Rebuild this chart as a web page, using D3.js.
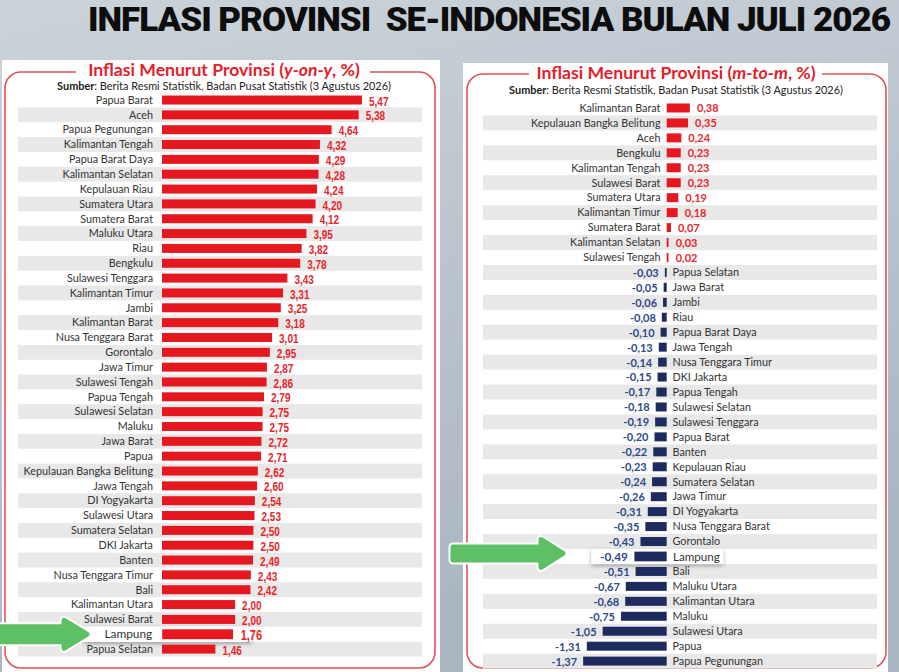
<!DOCTYPE html>
<html>
<head>
<meta charset="utf-8">
<script src="https://cdn.jsdelivr.net/npm/d3@7"></script>
<style>
  html, body { margin: 0; padding: 0; background: #b9c4ce; }
  svg { display: block; }
</style>
</head>
<body>
<div id="chart"></div>
<script>
// Data
const provYoy = ["Papua Barat", "Aceh", "Papua Pegunungan", "Kalimantan Tengah", "Papua Barat Daya",
  "Kalimantan Selatan", "Kepulauan Riau", "Sumatera Utara", "Sumatera Barat", "Maluku Utara", "Riau",
  "Bengkulu", "Sulawesi Tenggara", "Kalimantan Timur", "Jambi", "Kalimantan Barat", "Nusa Tenggara Barat",
  "Gorontalo", "Jawa Timur", "Sulawesi Tengah", "Papua Tengah", "Sulawesi Selatan", "Maluku", "Jawa Barat",
  "Papua", "Kepulauan Bangka Belitung", "Jawa Tengah", "DI Yogyakarta", "Sulawesi Utara", "Sumatera Selatan",
  "DKI Jakarta", "Banten", "Nusa Tenggara Timur", "Bali", "Kalimantan Utara", "Sulawesi Barat", "Lampung",
  "Papua Selatan"];
const valYoy = [5.47, 5.38, 4.64, 4.32, 4.29, 4.28, 4.24, 4.20, 4.12, 3.95, 3.82, 3.78, 3.43, 3.31, 3.25,
  3.18, 3.01, 2.95, 2.87, 2.86, 2.79, 2.75, 2.75, 2.72, 2.71, 2.62, 2.60, 2.54, 2.53, 2.50, 2.50, 2.49,
  2.43, 2.42, 2.00, 2.00, 1.76, 1.46];

const provMtm = ["Kalimantan Barat", "Kepulauan Bangka Belitung", "Aceh", "Bengkulu", "Kalimantan Tengah",
  "Sulawesi Barat", "Sumatera Utara", "Kalimantan Timur", "Sumatera Barat", "Kalimantan Selatan",
  "Sulawesi Tengah", "Papua Selatan", "Jawa Barat", "Jambi", "Riau", "Papua Barat Daya", "Jawa Tengah",
  "Nusa Tenggara Timur", "DKI Jakarta", "Papua Tengah", "Sulawesi Selatan", "Sulawesi Tenggara",
  "Papua Barat", "Banten", "Kepulauan Riau", "Sumatera Selatan", "Jawa Timur", "DI Yogyakarta",
  "Nusa Tenggara Barat", "Gorontalo", "Lampung", "Bali", "Maluku Utara", "Kalimantan Utara", "Maluku",
  "Sulawesi Utara", "Papua", "Papua Pegunungan"];
const valMtm = [0.38, 0.35, 0.24, 0.23, 0.23, 0.23, 0.19, 0.18, 0.07, 0.03, 0.02, -0.03, -0.05, -0.06,
  -0.08, -0.10, -0.13, -0.14, -0.15, -0.17, -0.18, -0.19, -0.20, -0.22, -0.23, -0.24, -0.26, -0.31, -0.35,
  -0.43, -0.49, -0.51, -0.67, -0.68, -0.75, -1.05, -1.31, -1.37];

const highlight = "Lampung";

const W = 899, H = 672;
const red = "#e5171f", redText = "#e8262c", navy = "#1d2b5e", blueText = "#2d4a8a";
const labelFont = "Lato, 'Open Sans', sans-serif";
const numFont = "'Liberation Sans', Arial, sans-serif";

const idLocale = d3.formatLocale({decimal: ",", thousands: ".", grouping: [3], currency: ["", ""], minus: "-"});
const fmt = idLocale.format(".2f");

const svg = d3.select("#chart").append("svg")
  .attr("width", W)
  .attr("height", H);

const defs = svg.append("defs");
const bg = defs.append("linearGradient").attr("id", "bg")
  .attr("x1", 0).attr("y1", 0).attr("x2", 0.3).attr("y2", 1);
bg.append("stop").attr("offset", "0%").attr("stop-color", "#cbd3da");
bg.append("stop").attr("offset", "100%").attr("stop-color", "#a9b5c1");

const shadow = defs.append("filter").attr("id", "shadow")
  .attr("x", "-20%").attr("y", "-60%").attr("width", "140%").attr("height", "220%");
shadow.append("feDropShadow").attr("dx", 0).attr("dy", 1.5).attr("stdDeviation", 2)
  .attr("flood-color", "#000").attr("flood-opacity", 0.35);

svg.append("rect").attr("width", W).attr("height", H).attr("fill", "url(#bg)");

// Main title
svg.append("text")
  .attr("x", 88).attr("y", 31)
  .attr("textLength", 802).attr("lengthAdjust", "spacingAndGlyphs")
  .style("white-space", "pre")
  .attr("font-family", "Roboto, 'DejaVu Sans', sans-serif")
  .attr("font-weight", 900)
  .attr("font-size", 34)
  .attr("letter-spacing", -1)
  .attr("fill", "#0d0d0d")
  .text("INFLASI PROVINSI  SE-INDONESIA BULAN JULI 2026");

// Card frame: white card, red rounded border with a gap for the heading
function card(o) {
  svg.append("rect")
    .attr("x", o.cx).attr("y", o.cy).attr("width", o.cw).attr("height", H - o.cy + 5)
    .attr("fill", "#fff");

  const r = 16, p = d3.path();
  p.moveTo(o.gapL, o.t);
  p.lineTo(o.l + r, o.t);
  p.arcTo(o.l, o.t, o.l, o.t + r, r);
  p.lineTo(o.l, o.b - r);
  p.arcTo(o.l, o.b, o.l + r, o.b, r);
  p.lineTo(o.r - r, o.b);
  p.arcTo(o.r, o.b, o.r, o.b - r, r);
  p.lineTo(o.r, o.t + r);
  p.arcTo(o.r, o.t, o.r - r, o.t, r);
  p.lineTo(o.gapR, o.t);
  svg.append("path").attr("d", p.toString())
    .attr("fill", "none").attr("stroke", "#e0525b").attr("stroke-width", 1.6);

  const t = svg.append("text")
    .attr("x", o.tx).attr("y", o.ty)
    .attr("text-anchor", "middle")
    .attr("font-family", labelFont)
    .attr("font-weight", 700)
    .attr("font-size", 17.6)
    .attr("fill", "#e4202a");
  t.append("tspan").text("Inflasi Menurut Provinsi (");
  t.append("tspan").attr("font-style", "italic").text(o.kind);
  t.append("tspan").text(", %)");

  const s = svg.append("text")
    .attr("x", o.tx).attr("y", o.sy)
    .attr("text-anchor", "middle")
    .attr("font-family", labelFont)
    .attr("font-size", 10.9)
    .attr("fill", "#222");
  s.append("tspan").attr("font-weight", 700).text("Sumber");
  s.append("tspan").text(": Berita Resmi Statistik, Badan Pusat Statistik (3 Agustus 2026)");
}

card({cx: 2, cy: 60, cw: 438, l: 5, r: 435, t: 72, b: 668, gapL: 76, gapR: 370,
  tx: 224, ty: 75.5, sy: 90, kind: "y-on-y"});
card({cx: 463, cy: 63, cw: 425, l: 467, r: 886, t: 74, b: 668, gapL: 529, gapR: 822,
  tx: 676, ty: 79, sy: 94, kind: "m-to-m"});

// ---------- Left chart: y-on-y ----------
const yL = d3.scaleBand().domain(provYoy).range([92.6, 92.6 + 38 * 14.84]);
const xL = d3.scaleLinear().domain([0, 6]).range([162, 162 + 6 * 36.56]);

const gL = svg.append("g");
gL.selectAll("rect.stripe")
  .data(provYoy.filter((d, i) => i % 2 === 1))
  .enter().append("rect")
  .attr("class", "stripe")
  .attr("x", 18).attr("width", 404)
  .attr("y", d => yL(d)).attr("height", yL.bandwidth())
  .attr("fill", "#e8e8e8");

const rowsL = gL.selectAll("g.row")
  .data(provYoy.map((d, i) => ({name: d, value: valYoy[i]})))
  .enter().append("g")
  .attr("class", "row")
  .attr("transform", d => {
    const cy = yL(d.name) + yL.bandwidth() / 2;
    return d.name === highlight
      ? `translate(0,${cy}) translate(160,0) scale(1.1) translate(-160,0)`
      : `translate(0,${cy})`;
  });

rowsL.filter(d => d.name === highlight).append("rect")
  .attr("x", 91).attr("y", -7).attr("width", 152).attr("height", 14)
  .attr("fill", "#fff").attr("filter", "url(#shadow)");

rowsL.append("text")
  .attr("x", 153).attr("dy", "0.35em")
  .attr("text-anchor", "end")
  .attr("font-family", labelFont).attr("font-size", 10.8)
  .attr("fill", "#333")
  .text(d => d.name);

rowsL.append("rect")
  .attr("x", xL(0)).attr("y", -4.5)
  .attr("width", d => xL(d.value) - xL(0)).attr("height", 9)
  .attr("fill", red);

// condensed figures: squeeze to the narrow width seen in the picture
rowsL.append("text")
  .attr("x", d => xL(d.value) + 7).attr("dy", "0.45em")
  .attr("font-family", numFont).attr("font-size", 12.5).attr("font-weight", 700)
  .attr("textLength", 19.5).attr("lengthAdjust", "spacingAndGlyphs")
  .attr("fill", redText)
  .text(d => fmt(d.value));

// ---------- Right chart: m-to-m ----------
const yR = d3.scaleBand().domain(provMtm).range([100.5, 100.5 + 38 * 14.95]);
const xR = d3.scaleLinear().domain([-1.5, 0.5]).range([666.7 - 1.5 * 61, 666.7 + 0.5 * 61]);

const gR = svg.append("g");
gR.selectAll("rect.stripe")
  .data(provMtm.filter((d, i) => i % 2 === 1))
  .enter().append("rect")
  .attr("class", "stripe")
  .attr("x", 483).attr("width", 394)
  .attr("y", d => yR(d)).attr("height", yR.bandwidth())
  .attr("fill", "#e8e8e8");

const rowsR = gR.selectAll("g.row")
  .data(provMtm.map((d, i) => ({name: d, value: valMtm[i]})))
  .enter().append("g")
  .attr("class", "row")
  .attr("transform", d => {
    const cy = yR(d.name) + yR.bandwidth() / 2;
    return d.name === highlight
      ? `translate(0,${cy}) translate(667,0) scale(1.08) translate(-667,0)`
      : `translate(0,${cy})`;
  });

rowsR.filter(d => d.name === highlight).append("rect")
  .attr("x", 597).attr("y", -7).attr("width", 122).attr("height", 14)
  .attr("fill", "#fff").attr("filter", "url(#shadow)");

rowsR.append("text")
  .attr("x", d => d.value >= 0 ? 660.5 : 672.5).attr("dy", "0.35em")
  .attr("text-anchor", d => d.value >= 0 ? "end" : "start")
  .attr("font-family", labelFont).attr("font-size", 10.8)
  .attr("fill", "#333")
  .text(d => d.name);

rowsR.append("rect")
  .attr("x", d => Math.min(xR(0), xR(d.value)))
  .attr("y", -4.5)
  .attr("width", d => Math.max(1.8, Math.abs(xR(d.value) - xR(0))))
  .attr("height", 9)
  .attr("fill", d => d.value >= 0 ? red : navy);

rowsR.append("text")
  .attr("x", d => d.value >= 0 ? Math.max(xR(d.value), xR(0) + 2) + 7 : Math.min(xR(d.value), xR(0) - 2) - 6)
  .attr("dy", "0.4em")
  .attr("text-anchor", d => d.value >= 0 ? "start" : "end")
  .attr("font-family", labelFont).attr("font-size", 11).attr("font-weight", 700)
  .attr("fill", d => d.value >= 0 ? redText : blueText)
  .text(d => fmt(d.value));

// ---------- Green arrows pointing at the highlighted row ----------
function arrow(x0, x1, tip, cy, shaft, head) {
  const p = d3.path();
  p.moveTo(x0, cy - shaft / 2);
  p.lineTo(x1, cy - shaft / 2);
  p.lineTo(x1, cy - head / 2);
  p.lineTo(tip, cy);
  p.lineTo(x1, cy + head / 2);
  p.lineTo(x1, cy + shaft / 2);
  p.lineTo(x0, cy + shaft / 2);
  p.closePath();
  const g = svg.append("g");
  g.append("path").attr("d", p.toString())
    .attr("fill", "#fff").attr("stroke", "#fff").attr("stroke-width", 9).attr("stroke-linejoin", "round");
  g.append("path").attr("d", p.toString())
    .attr("fill", "#5ec065").attr("stroke", "#5ec065").attr("stroke-width", 5).attr("stroke-linejoin", "round");
}
const cyL = yL(highlight) + yL.bandwidth() / 2;
const cyR = yR(highlight) + yR.bandwidth() / 2;
arrow(-10, 64, 87, cyL, 15, 28);
arrow(453, 541, 563, cyR - 3, 13, 28);
</script>
</body>
</html>
